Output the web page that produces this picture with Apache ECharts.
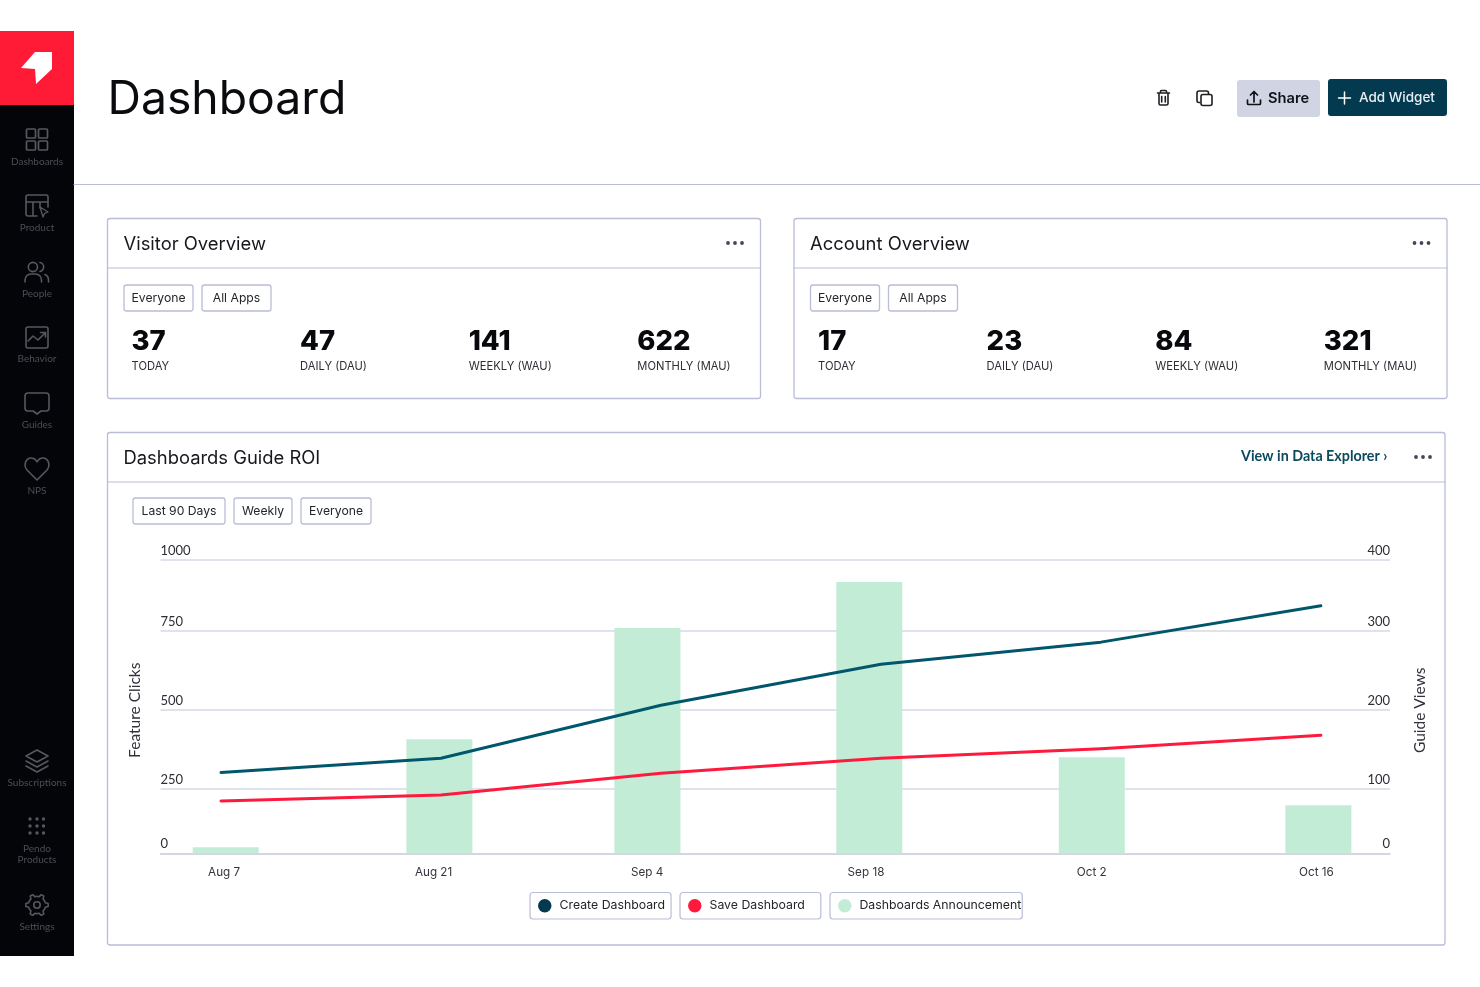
<!DOCTYPE html>
<html>
<head>
<meta charset="utf-8">
<title>Dashboard</title>
<style>
  html, body { margin: 0; padding: 0; background: #fff; }
  #main { width: 1480px; height: 987px; }
</style>
<script src="https://cdn.jsdelivr.net/npm/echarts@6/dist/echarts.min.js"></script>
</head>
<body>
<div id="main"></div>
<script>
// x positions are days since Aug 7
var tickNames = ['Aug 7', 'Aug 21', 'Sep 4', 'Sep 18', 'Oct 2', 'Oct 16'];
var tickDays = [0.2, 13.53, 27.12, 41.05, 55.42, 69.72];
var lineDays = [0, 14, 28, 42, 56, 70];
var barDays = [0.3, 13.9, 27.14, 41.26, 55.42, 69.84];

var createDashboard = [121, 139, 206, 258, 286, 332];
var saveDashboard = [85, 92.5, 120, 139, 151, 168];
var announcement = [20, 408, 760, 930, 351, 199];

var leftTicks = [0, 250, 500, 750, 1000];
var rightTicks = [0, 100, 200, 300, 400];

var statLabels = ['TODAY', 'DAILY (DAU)', 'WEEKLY (WAU)', 'MONTHLY (MAU)'];
var visitorStats = [37, 47, 141, 622];
var accountStats = [17, 23, 84, 321];

var navTop = ['Dashboards', 'Product', 'People', 'Behavior', 'Guides', 'NPS'];

var FONT = 'Inter';
var SOFT = 'Lato';
var BORDER = '#b9bdd6';
var GRID = '#d6d8e6';
var NAV = '#55585f';
var NAVTEXT = '#4b4e56';
var g = [];
var iconCount = 0;

function rect(x, y, w, h, fill, stroke, r, lw) {
  g.push({ type: 'rect', shape: { x: x, y: y, width: w, height: h, r: r || 0 },
    style: { fill: fill || 'none', stroke: stroke || 'none', lineWidth: lw || 1.3 } });
}
function line(x1, y1, x2, y2, color, lw) {
  g.push({ type: 'line', shape: { x1: x1, y1: y1, x2: x2, y2: y2 },
    style: { stroke: color, lineWidth: lw || 1.3, lineCap: 'round' } });
}
function text(x, y, s, size, color, weight, font, align) {
  g.push({ type: 'text', x: x, y: y, style: { text: s, fontSize: size, fill: color,
    fontWeight: weight || 400, fontFamily: font || FONT, align: align || 'left', verticalAlign: 'middle' } });
}
// the graphic component has no plain path type, so each icon gets a registered shape
function icon(d, color, lw, fill) {
  var name = 'navIcon' + (iconCount++);
  echarts.graphic.registerShape(name, echarts.graphic.extendPath(d, {}));
  g.push({ type: name, shape: {},
    style: { fill: fill || 'none', stroke: color, lineWidth: lw || 1.6, lineCap: 'round', lineJoin: 'round' } });
}
function dot(x, y, r, color) {
  g.push({ type: 'circle', shape: { cx: x, cy: y, r: r }, style: { fill: color } });
}
function dots(x, y) {
  dot(x, y, 1.9, '#42465a'); dot(x + 7, y, 1.9, '#42465a'); dot(x + 14, y, 1.9, '#42465a');
}
function chip(x, y, w, label) {
  rect(x, y, w, 26, '#fff', BORDER, 2.5);
  text(x + w / 2, y + 13.5, label, 12.2, '#23252b', 400, FONT, 'center');
}

// sidebar
rect(0, 31, 74, 925, '#040508');
rect(0, 31, 74, 74, '#ff1a35');
g.push({ type: 'polygon', shape: { points: [[52, 52], [35, 52], [21, 68], [35, 69], [36, 84], [52, 69]] }, style: { fill: '#fff' } });

var navY = [161.5, 227.5, 293.5, 359, 425, 491];
navTop.forEach(function (name, i) { text(37, navY[i], name, 10, NAVTEXT, 400, SOFT, 'center'); });
text(37, 782.5, 'Subscriptions', 10, NAVTEXT, 400, SOFT, 'center');
text(37, 848.5, 'Pendo', 10, NAVTEXT, 400, SOFT, 'center');
text(37, 860, 'Products', 10, NAVTEXT, 400, SOFT, 'center');
text(37, 926.5, 'Settings', 10, NAVTEXT, 400, SOFT, 'center');

rect(26.5, 129, 9, 9, null, NAV, 1, 1.7); rect(38.5, 129, 9, 9, null, NAV, 1, 1.7);
rect(26.5, 141, 9, 9, null, NAV, 1, 1.7); rect(38.5, 141, 9, 9, null, NAV, 1, 1.7);
icon('M37 216H28a2 2 0 0 1-2-2V197a2 2 0 0 1 2-2H46a2 2 0 0 1 2 2V207M26 202H48M33 202V216M40 202V208', NAV);
icon('M40 207L48 212L44.5 213.5L43 217Z', NAV, 1.3);
icon('M37.5 267a4.6 4.6 0 1 1-9.2 0a4.6 4.6 0 1 1 9.2 0M25 282v-2a6 6 0 0 1 6-6h4.5a6 6 0 0 1 6 6v2M40 262.5a4.6 4.6 0 0 1 0 9M45 274.5a6 6 0 0 1 3.5 5.5v2', NAV);
icon('M28 327H46a2 2 0 0 1 2 2V346a2 2 0 0 1-2 2H28a2 2 0 0 1-2-2V329a2 2 0 0 1 2-2ZM28 341L33 336L38 340L45 333M40.5 332.5H45.5V337', NAV);
icon('M28 393H46a3 3 0 0 1 3 3V408a3 3 0 0 1-3 3H41L37 414L33 411H28a3 3 0 0 1-3-3V396a3 3 0 0 1 3-3Z', NAV);
icon('M37 480L27 470C23 465 26 458 31 458C34 458 36 460 37 462C38 460 40 458 43 458C48 458 51 465 47 470Z', NAV);
icon('M37 750L48 756L37 762L26 756ZM26 761L37 767L48 761M26 766L37 772L48 766', NAV);
[30, 37, 43.5].forEach(function (x) {
  [819, 826, 833].forEach(function (y) { dot(x, y, 1.7, NAV); });
});
var gear = '';
for (var t = 0; t < 48; t++) {
  var a = t / 48 * Math.PI * 2;
  var rad = Math.cos(a * 6) > 0.1 ? 11.2 : 8.6;
  gear += (t ? 'L' : 'M') + (37 + rad * Math.cos(a)).toFixed(1) + ' ' + (905 + rad * Math.sin(a)).toFixed(1);
}
icon(gear + 'Z', NAV);
g.push({ type: 'circle', shape: { cx: 37, cy: 905, r: 3.2 }, style: { fill: 'none', stroke: NAV, lineWidth: 1.6 } });

// header
text(107.5, 100.5, 'Dashboard', 46.3, '#0a0b0e', 400);
line(74, 184.5, 1480, 184.5, BORDER, 1.2);
icon('M1157.5 93H1169.5M1160.5 93V91.5a1 1 0 0 1 1-1H1165.5a1 1 0 0 1 1 1V93M1159 93V103.5a1.5 1.5 0 0 0 1.5 1.5H1166.5a1.5 1.5 0 0 0 1.5-1.5V93M1161.7 96.5V102M1165.3 96.5V102', '#1d1f25', 1.6);
icon('M1200 102.5H1199a2 2 0 0 1-2-2V93a2 2 0 0 1 2-2H1206.5a2 2 0 0 1 2 2V94', '#1d1f25', 1.6);
rect(1201, 94.5, 11, 11, null, '#1d1f25', 2, 1.6);
rect(1237, 80, 83, 37, '#d1d4e2', null, 3);
icon('M1254 102V92M1250.5 95L1254 91.5L1257.5 95M1247.5 100V103.5a1 1 0 0 0 1 1H1259.5a1 1 0 0 0 1-1V100', '#101218', 1.7);
text(1268, 98.5, 'Share', 14.7, '#101218', 600);
rect(1328, 79, 119, 37, '#043a50', null, 3);
icon('M1344.5 92V104M1338.5 98H1350.5', '#fff', 1.5);
text(1359, 97.5, 'Add Widget', 13.5, '#e8eef1', 500);

// overview cards
function overview(x, title, stats) {
  rect(x, 218.5, 653, 180, '#fff', BORDER, 2.5);
  line(x, 268, x + 653, 268, BORDER, 1.2);
  text(x + 16, 244, title, 18.4, '#16181d');
  dots(x + 620.5, 243);
  chip(x + 16.5, 285, 69, 'Everyone');
  chip(x + 94.5, 285, 69, 'All Apps');
  stats.forEach(function (v, i) {
    var cx = x + 24 + i * 168.6;
    text(cx, 342, String(v), 27.5, '#08090c', 800);
    text(cx, 366.5, statLabels[i], 11.2, '#2c2e35');
  });
}
overview(107.5, 'Visitor Overview', visitorStats);
overview(794, 'Account Overview', accountStats);

// chart card, behind the chart itself
rect(107.5, 432.5, 1337.5, 512.5, '#fff', BORDER, 2.5);
line(107.5, 482, 1445, 482, BORDER, 1.2);
text(123.5, 458, 'Dashboards Guide ROI', 18.4, '#16181d');
text(1241, 456.5, 'View in Data Explorer \u203a', 14.3, '#0b4a5e', 700, SOFT);
dots(1416, 457);
chip(133, 498, 92, 'Last 90 Days');
chip(234, 498, 58, 'Weekly');
chip(301, 498, 70, 'Everyone');

function pair(days, values) {
  return values.map(function (v, i) { return [days[i], v]; });
}

function legend(left, name, color, right) {
  return {
    left: left, top: 892.5, orient: 'horizontal', selectedMode: false,
    data: [{ name: name, icon: 'circle', itemStyle: { color: color } }],
    itemWidth: 13.5, itemHeight: 13.5,
    borderColor: BORDER, borderWidth: 1.2, borderRadius: 3, backgroundColor: '#fff',
    padding: [6.5, right, 6.5, 8],
    textStyle: { fontFamily: FONT, fontSize: 12.3, color: '#23252b', padding: [5, 0, 0, 3] }
  };
}

function valueAxis(max, ticks, breaks, align, name, pos) {
  return {
    type: 'value', min: 0, max: max, position: pos,
    breaks: breaks, breakArea: { show: false },
    name: name, nameLocation: 'middle', nameGap: pos === 'left' ? 18 : 22,
    nameTextStyle: { fontFamily: SOFT, fontSize: 15.5, color: '#30323a', padding: [0, 7, 0, 0] },
    axisLine: { show: false }, axisTick: { show: false },
    axisLabel: { inside: true, margin: 0, align: align, verticalAlign: 'bottom', padding: [0, 0, 3, 0],
      customValues: ticks, fontFamily: SOFT, fontSize: 13, color: '#2c2e35', formatter: function (v) { return String(v); } },
    splitLine: { show: false }
  };
}

var myChart = echarts.init(document.getElementById('main'));
var option = {
  animation: false,
  backgroundColor: '#fff',
  graphic: { elements: g.map(function (el) { el.z = -10; return el; }) },
  grid: { left: 160.5, right: 90, top: 560, bottom: 133.5, containLabel: false },
  legend: [
    legend(530, 'Create Dashboard', '#043a50', 6),
    legend(680, 'Save Dashboard', '#ff1a3d', 16),
    legend(830, 'Dashboards Announcement', '#c3ecd6', 1)
  ],
  xAxis: {
    type: 'value', min: -3.85, max: 74.4,
    axisLine: { onZero: false, lineStyle: { color: '#c6c8da', width: 1.5 } },
    axisTick: { show: false },
    splitLine: { show: false },
    axisLabel: {
      customValues: tickDays, margin: 12.5, fontFamily: FONT, fontSize: 11.7, color: '#33353c',
      formatter: function (v) { return tickNames[tickDays.indexOf(v)]; }
    }
  },
  yAxis: [
    valueAxis(1000, leftTicks, [{ start: 100, end: 146, gap: 0 }, { start: 860, end: 885, gap: 0 }], 'left', 'Feature Clicks', 'left'),
    valueAxis(400, rightTicks, [{ start: 20, end: 38.4, gap: 0 }, { start: 350, end: 360, gap: 0 }], 'right', 'Guide Views', 'right')
  ],
  series: [
    { name: 'Dashboards Announcement', type: 'bar', yAxisIndex: 0, barWidth: 66, z: 2,
      itemStyle: { color: '#c3ecd6' }, data: pair(barDays, announcement),
      // split lines ignore custom tick values on a broken axis, so the grid lines are marked here
      markLine: { silent: true, z: 1, symbol: 'none', label: { show: false },
        lineStyle: { color: GRID, width: 1.5, type: 'solid' },
        data: leftTicks.slice(1).map(function (v) { return { yAxis: v }; }) } },
    { name: 'Create Dashboard', type: 'line', yAxisIndex: 1, symbol: 'none', z: 3,
      lineStyle: { color: '#00566a', width: 3, cap: 'round', join: 'round' }, data: pair(lineDays, createDashboard) },
    { name: 'Save Dashboard', type: 'line', yAxisIndex: 1, symbol: 'none', z: 3,
      lineStyle: { color: '#ff1a3d', width: 3, cap: 'round', join: 'round' }, data: pair(lineDays, saveDashboard) }
  ]
};
myChart.setOption(option);
</script>
</body>
</html>
